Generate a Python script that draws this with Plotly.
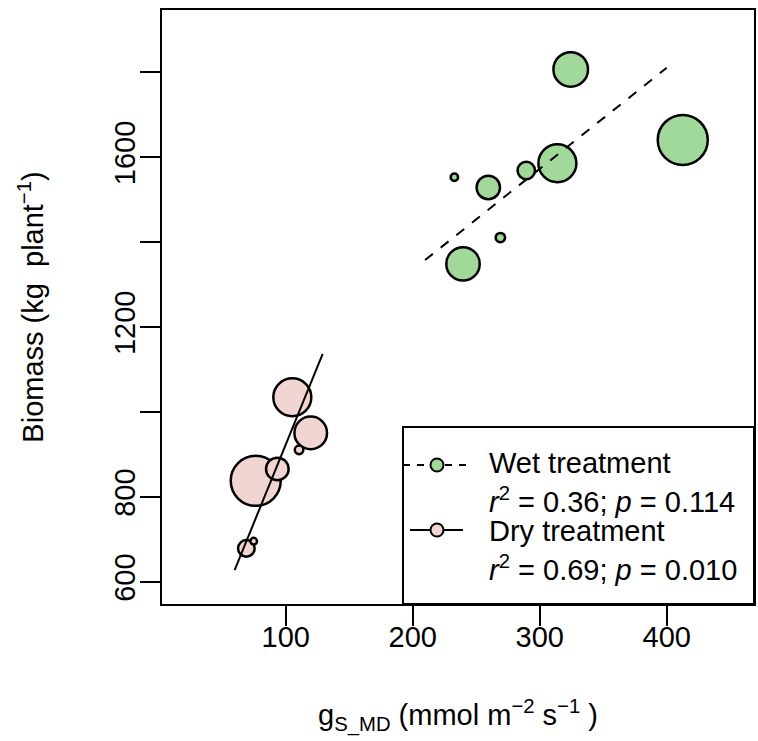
import plotly.graph_objects as go

# ---- data ----
wet_gs = [412.6, 313.9, 324.4, 239.6, 259.5, 289.4, 269.0, 232.8]
wet_biomass = [1641, 1586, 1807, 1349, 1529, 1569, 1411, 1553]
wet_bubble = [50, 38, 34.6, 33.4, 23.4, 17.4, 9.4, 7.4]

dry_gs = [76.4, 105.2, 119.7, 93.4, 69.0, 110.5, 74.8]
dry_biomass = [838, 1035, 951, 866, 679, 911, 696]
dry_bubble = [50, 38, 32.6, 22.6, 16.6, 8.6, 6.6]

wet_fit_x = [209.7, 400.0]
wet_fit_y = [1358, 1811]
dry_fit_x = [59.8, 129.1]
dry_fit_y = [628, 1137]

x_ticks = [100, 200, 300, 400]
y_ticks = [600, 800, 1000, 1200, 1400, 1600, 1800]
y_ticktext = ["600", "800", "", "1200", "", "1600", ""]

legend_names = ["Wet treatment", "Dry treatment"]
legend_r2 = ["0.36", "0.69"]
legend_p = ["0.114", "0.010"]

WET_COL = "#A1D99B"
DRY_COL = "#F0D5D2"
FONT = "Liberation Sans, Arial, Helvetica, sans-serif"
FS = 29

W, H = 758, 741
ML, MR, MT, MB = 162, 4, 10, 137
PW, PH = W - ML - MR, H - MT - MB


def px(xp):
    return (xp - ML) / PW


def py(yp):
    return (H - MB - yp) / PH


fig = go.Figure()

fig.add_trace(go.Scatter(
    x=wet_gs, y=wet_biomass, mode="markers", name=legend_names[0],
    marker=dict(size=wet_bubble, sizemode="diameter", sizeref=1, opacity=1,
                color=WET_COL, line=dict(color="black", width=2.5)),
    showlegend=False))
fig.add_trace(go.Scatter(
    x=dry_gs, y=dry_biomass, mode="markers", name=legend_names[1],
    marker=dict(size=dry_bubble, sizemode="diameter", sizeref=1, opacity=1,
                color=DRY_COL, line=dict(color="black", width=2.5)),
    showlegend=False))
fig.add_trace(go.Scatter(
    x=wet_fit_x, y=wet_fit_y, mode="lines",
    line=dict(color="black", width=2, dash="10px,10px"), showlegend=False))
fig.add_trace(go.Scatter(
    x=dry_fit_x, y=dry_fit_y, mode="lines",
    line=dict(color="black", width=2), showlegend=False))

# ---- legend box (drawn by hand, R-style) ----
shapes = [
    dict(type="rect", xref="paper", yref="paper",
         x0=px(403), x1=px(754), y0=py(604), y1=py(427),
         line=dict(color="black", width=2), fillcolor="white", layer="above"),
    dict(type="line", xref="paper", yref="paper",
         x0=px(403), x1=px(466), y0=py(465), y1=py(465),
         line=dict(color="black", width=2, dash="7px,7px"), layer="above"),
    dict(type="line", xref="paper", yref="paper",
         x0=px(410), x1=px(463), y0=py(530), y1=py(530),
         line=dict(color="black", width=2), layer="above"),
]
for cy, col in [(465, WET_COL), (530, DRY_COL)]:
    r = 6.5
    shapes.append(dict(type="circle", xref="paper", yref="paper",
                       x0=px(437 - r), x1=px(437 + r), y0=py(cy + r), y1=py(cy - r),
                       line=dict(color="black", width=2), fillcolor=col,
                       layer="above"))

annots = []
lines_y = [(463, legend_names[0]),
           (500, f"<i>r</i><sup>2</sup> = {legend_r2[0]}; <i>p</i> = {legend_p[0]}"),
           (531, legend_names[1]),
           (568, f"<i>r</i><sup>2</sup> = {legend_r2[1]}; <i>p</i> = {legend_p[1]}")]
for yy, txt in lines_y:
    annots.append(dict(xref="paper", yref="paper", x=px(487), y=py(yy),
                       xanchor="left", yanchor="middle", text=txt,
                       showarrow=False, font=dict(family=FONT, size=FS, color="black")))

fig.update_layout(
    width=W, height=H,
    margin=dict(l=ML, r=MR, t=MT, b=MB, autoexpand=False),
    paper_bgcolor="white", plot_bgcolor="white",
    font=dict(family=FONT, size=FS, color="black"),
    shapes=shapes, annotations=annots,
    showlegend=False,
    xaxis=dict(range=[2.6, 468.7], tickvals=x_ticks, ticks="outside", ticklen=20,
               tickwidth=2, tickcolor="black", showline=True, linewidth=2,
               linecolor="black", mirror=True, showgrid=False, zeroline=False,
               automargin=False, ticklabelstandoff=-14,
               tickfont=dict(family=FONT, size=FS),
               title=dict(text="g<sub>S_MD</sub> (mmol m<sup>\u22122</sup> s<sup>\u22121</sup> )",
                          font=dict(family=FONT, size=FS), standoff=53)),
    yaxis=dict(range=[548, 1947], tickvals=y_ticks, ticktext=y_ticktext,
               ticks="outside", ticklen=20, tickwidth=2, tickcolor="black",
               tickangle=-90, showline=True, linewidth=2, linecolor="black",
               mirror=True, showgrid=False, zeroline=False, automargin=False,
               ticklabelstandoff=-7,
               tickfont=dict(family=FONT, size=FS),
               title=dict(text="Biomass (kg  plant<sup>\u22121</sup>)",
                          font=dict(family=FONT, size=FS), standoff=57)),
)

fig.write_html("out.html", config={"displayModeBar": False},
               post_script="document.body.style.margin='0';document.body.style.padding='0';")
